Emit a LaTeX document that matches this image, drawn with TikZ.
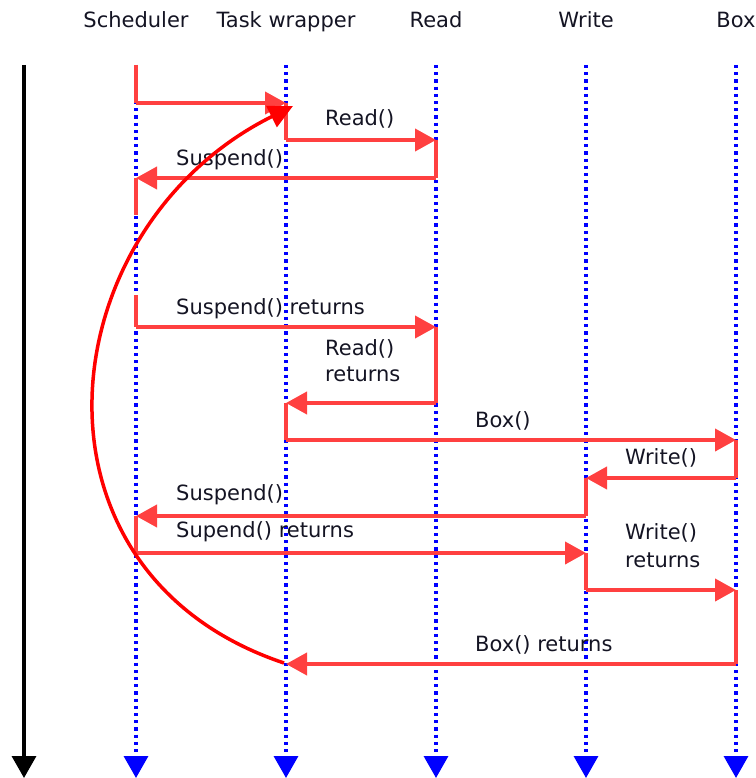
\documentclass[tikz,border=0pt]{standalone}
\usepackage{fontspec}
\setmainfont{DejaVu Sans}
\usetikzlibrary{arrows.meta}
\definecolor{msgred}{RGB}{255,64,64}
\definecolor{txt}{RGB}{20,20,35}
\begin{document}
\begin{tikzpicture}[x=1pt,y=-1pt,
  lbl/.style={font=\fontsize{21}{25}\selectfont, inner sep=0pt, anchor=base west, text=txt},
  head/.style={font=\fontsize{21}{25}\selectfont, inner sep=0pt, anchor=base, text=txt},
  life/.style={blue, line width=3.4pt, dash pattern=on 3.2pt off 4pt, -{Triangle[length=22pt,width=24pt]}},
  timeline/.style={black, line width=3.4pt, -{Triangle[length=22pt,width=24pt]}},
  act/.style={msgred, line width=4pt},
  msg/.style={msgred, line width=4pt, -{Triangle[length=21pt,width=22pt]}},
  loopback/.style={red, line width=3.5pt, -{Triangle[length=24pt,width=23pt]}}
]
\useasboundingbox (0,0) rectangle (755,778);

% headers
\node[head] (hS) at (136,28) {Scheduler};
\node[head] (hT) at (286,28) {Task wrapper};
\node[head] (hR) at (436,28) {Read};
\node[head] (hW) at (586,28) {Write};
\node[head] (hB) at (736,28) {Box};

% lifelines
\foreach \n/\x in {S/136,T/286,R/436,W/586,B/736,K/24}{
  \coordinate (\n top) at (\x,65);
  \coordinate (\n bot) at (\x,778);
}
\draw[timeline] (Ktop) -- (Kbot);
\foreach \n in {S,T,R,W,B}{ \draw[life] (\n top) -- (\n bot); }

% message points
\foreach \n/\x/\y in {
  p1/136/103, q1/286/103,
  p2/286/140, q2/436/140,
  p3/436/178, q3/136/178, r3/136/215,
  s4/136/295, p4/136/327, q4/436/327,
  p5/436/403, q5/286/403,
  p6/286/440, q6/736/440,
  p7/736/478, q7/586/478,
  p8/586/516, q8/136/516,
  p9/136/553, q9/586/553,
  p10/586/590, q10/736/590,
  p11/736/664, q11/286/664}{
  \coordinate (\n) at (\x,\y);
}

% activations and messages
\draw[act] (Stop) -- (p1);  \draw[msg] (p1) -- (q1);
\draw[act] (q1) -- (p2);    \draw[msg] (p2) -- (q2);
\draw[act] (q2) -- (p3);    \draw[msg] (p3) -- (q3);
\draw[act] (q3) -- (r3);
\draw[act] (s4) -- (p4);    \draw[msg] (p4) -- (q4);
\draw[act] (q4) -- (p5);    \draw[msg] (p5) -- (q5);
\draw[act] (q5) -- (p6);    \draw[msg] (p6) -- (q6);
\draw[act] (q6) -- (p7);    \draw[msg] (p7) -- (q7);
\draw[act] (q7) -- (p8);    \draw[msg] (p8) -- (q8);
\draw[act] (q8) -- (p9);    \draw[msg] (p9) -- (q9);
\draw[act] (q9) -- (p10);   \draw[msg] (p10) -- (q10);
\draw[act] (q10) -- (p11);  \draw[msg] (p11) -- (q11);

% labels
\node[lbl] (l1) at (325,126) {Read()};
\node[lbl] (l2) at (176,165) {Suspend()};
\node[lbl] (l3) at (176,314) {Suspend() returns};
\node[lbl] (l4a) at (325,355) {Read()};
\node[lbl] (l4b) at (325,381) {returns};
\node[lbl] (l5) at (475,427) {Box()};
\node[lbl] (l6) at (625,464) {Write()};
\node[lbl] (l7) at (176,500) {Suspend()};
\node[lbl] (l8) at (176,537) {Supend() returns};
\node[lbl] (l9a) at (625,539) {Write()};
\node[lbl] (l9b) at (625,567) {returns};
\node[lbl] (l10) at (475,651) {Box() returns};

% loop back curve
\coordinate (cS) at (284,663);
\coordinate (cE) at (293,106);
\draw[loopback] (cS) .. controls (12,572) and (48,228) .. (cE);
\end{tikzpicture}
\end{document}
